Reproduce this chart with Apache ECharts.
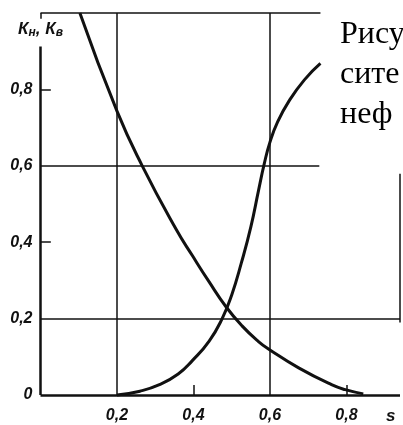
<!DOCTYPE html>
<html><head><meta charset="utf-8">
<script src="https://cdn.jsdelivr.net/npm/echarts@6/dist/echarts.min.js"></script>
<style>html,body{margin:0;padding:0;background:#fff}#c{width:403px;height:425px}</style>
</head><body><div id="c"></div>
<script>
// Oil relative permeability Kн vs water saturation s
const kOil = [[0.103,1.0],[0.2,0.743],[0.266,0.6],[0.355,0.433],[0.397,0.365],[0.441,0.296],[0.485,0.231],[0.527,0.181],[0.57,0.14],[0.6,0.118],[0.675,0.071],[0.761,0.027],[0.797,0.014],[0.844,0.003]];
// Water relative permeability Kв vs s
const kWater = [[0.2,0],[0.26,0.01],[0.311,0.027],[0.36,0.055],[0.397,0.09],[0.441,0.141],[0.475,0.2],[0.5,0.262],[0.525,0.345],[0.55,0.44],[0.57,0.535],[0.585,0.605],[0.6,0.662],[0.62,0.715],[0.65,0.77],[0.69,0.825],[0.732,0.868]];
const xTicks = [0.2,0.4,0.6,0.8];
const yTicks = [0,0.2,0.4,0.6,0.8];
const xName = 's';
const yNameParts = ['К','н','К','в'];
const captionLines = ['Рису','сите','неф'];

const ink = '#111';
const fmt = v => v.toFixed(1).replace('.', ',');
function seg(a, b, w) { return [{coord: a, lineStyle: {width: w, color: ink, type: 'solid'}}, {coord: b}]; }

const chart = echarts.init(document.getElementById('c'), null, {renderer: 'canvas'});
chart.setOption({
  animation: false,
  backgroundColor: '#fff',
  grid: {left: 40.5, top: 13, width: 361.4, height: 384.5, containLabel: false},
  xAxis: {
    type: 'value', min: 0, max: 0.94, interval: 0.2,
    axisLine: {show: false}, axisTick: {show: false}, splitLine: {show: false},
    axisLabel: {
      margin: 13, color: ink, fontSize: 16, fontStyle: 'italic', fontWeight: 'bold', fontFamily: 'Liberation Sans',
      formatter: v => xTicks.some(t => Math.abs(t - v) < 1e-6) ? fmt(v) : ''
    },
    name: xName, nameLocation: 'end', nameGap: -14,
    nameTextStyle: {color: ink, fontSize: 17, fontStyle: 'italic', fontWeight: 'bold', fontFamily: 'Liberation Sans', verticalAlign: 'top', padding: [13, 0, 0, 0]}
  },
  yAxis: {
    type: 'value', min: 0, max: 1, interval: 0.2,
    axisLine: {show: false}, axisTick: {show: false}, splitLine: {show: false},
    axisLabel: {
      margin: 8, color: ink, fontSize: 16, fontStyle: 'italic', fontWeight: 'bold', fontFamily: 'Liberation Sans',
      formatter: v => yTicks.some(t => Math.abs(t - v) < 1e-6) ? (v === 0 ? '0' : fmt(v)) : ''
    },
    name: '{k|' + yNameParts[0] + '}{s|' + yNameParts[1] + '}{k|, ' + yNameParts[2] + '}{s|' + yNameParts[3] + '}',
    nameLocation: 'end', nameGap: -16,
    nameTextStyle: {
      verticalAlign: 'middle', align: 'center',
      rich: {
        k: {fontSize: 17, fontStyle: 'italic', fontWeight: 'bold', color: ink, fontFamily: 'Liberation Sans'},
        s: {fontSize: 12, fontStyle: 'italic', fontWeight: 'bold', color: ink, fontFamily: 'Liberation Sans', padding: [8, 0, 0, 0]}
      }
    }
  },
  graphic: [
    {type: 'text', left: 340, top: 15, silent: true,
     style: {text: captionLines.join('\n'), font: '32px "Liberation Serif"', fill: '#000', lineHeight: 40}}
  ],
  series: [
    {
      type: 'line', data: kOil, smooth: 0.5, symbol: 'none', clip: false,
      lineStyle: {color: ink, width: 3},
      markLine: {
        silent: true, symbol: ['none', 'none'], label: {show: false}, animation: false,
        data: [
          seg([0, 0], [0, 0.912], 2.5),
          seg([0, 0], [0.94, 0], 2.5),
          seg([0, 1], [0.732, 1], 1.5),
          seg([0, 1], [0, 0.985], 1.5),
          seg([0, 0.6], [0.729, 0.6], 1.5),
          seg([0, 0.2], [0.94, 0.2], 1.5),
          seg([0.2, 0], [0.2, 1], 1.5),
          seg([0.6, 0], [0.6, 1], 1.5),
          seg([0.94, 0.19], [0.94, 0.579], 1.5),
          seg([0, 0.4], [0.027, 0.4], 1.5),
          seg([0, 0.8], [0.027, 0.8], 1.5),
          seg([0.4, 0], [0.4, 0.026], 1.5),
          seg([0.8, 0], [0.8, 0.026], 1.5)
        ]
      }
    },
    {
      type: 'line', data: kWater, smooth: 0.5, symbol: 'none', clip: false,
      lineStyle: {color: ink, width: 3}
    }
  ]
});
</script></body></html>
